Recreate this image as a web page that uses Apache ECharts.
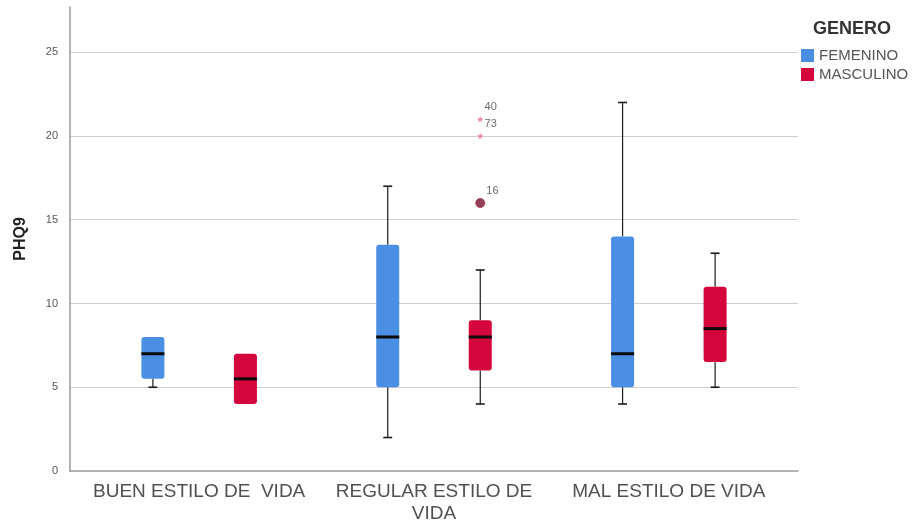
<!DOCTYPE html>
<html>
<head>
<meta charset="utf-8">
<script src="https://cdn.jsdelivr.net/npm/echarts@6/dist/echarts.min.js"></script>
<style>
  html, body { margin: 0; padding: 0; background: #ffffff; }
  #chart { width: 918px; height: 525px; }
</style>
</head>
<body>
<div id="chart"></div>
<script>
// Lifestyle categories on the x axis
const categories = ['BUEN ESTILO DE  VIDA', 'REGULAR ESTILO DE\nVIDA', 'MAL ESTILO DE VIDA'];
const groups = ['FEMENINO', 'MASCULINO'];

// Five-number summaries per category: [min, Q1, median, Q3, max]
const femenino  = [[5, 5.5, 7, 8, 8], [2, 5, 8, 13.5, 17], [4, 5, 7, 14, 22]];
const masculino = [[4, 4, 5.5, 7, 7], [4, 6, 8, 9, 12], [5, 6.5, 8.5, 11, 13]];

// Outlying cases (all in the MASCULINO group)
const outlierCategory = [1, 1, 1];
const outlierGroup    = [1, 1, 1];
const outlierValue    = [16, 20, 21];
const outlierCase     = ['16', '73', '40'];
const outlierKind     = ['circle', 'star', 'star'];

const yTicks = [0, 5, 10, 15, 20, 25];

const colors = ['#4A8FE3', '#D4063C'];
const GROUP_SHIFT = 0.197;   // horizontal shift of each gender box, in category units
const BOX_FRAC = 0.098;      // box width, fraction of category spacing
const CAP_FRAC = 0.038;      // whisker cap width

const STAR = 'path://M50,0 L61,35 L98,35 L68,57 L79,91 L50,70 L21,91 L32,57 L2,35 L39,35 Z';
const FONT = 'Liberation Sans, Arial, sans-serif';

function shiftFor(g) { return g === 0 ? -GROUP_SHIFT : GROUP_SHIFT; }

function boxRenderer(g) {
  return function (params, api) {
    const x = api.value(0) + shiftFor(g);
    const pMin = api.coord([x, api.value(1)]);
    const pQ1  = api.coord([x, api.value(2)]);
    const pMed = api.coord([x, api.value(3)]);
    const pQ3  = api.coord([x, api.value(4)]);
    const pMax = api.coord([x, api.value(5)]);
    const unit = api.size([1, 0])[0];
    const bw = unit * BOX_FRAC;
    const cw = unit * CAP_FRAC;
    const cx = pMed[0];
    const whisker = { stroke: '#1a1a1a', lineWidth: 1.2 };
    const cap = { stroke: '#1a1a1a', lineWidth: 1.6 };
    const children = [];
    if (pMax[1] < pQ3[1] - 0.5) {
      children.push({ type: 'line', shape: { x1: cx, y1: pQ3[1], x2: cx, y2: pMax[1] }, style: whisker });
      children.push({ type: 'line', shape: { x1: cx - cw / 2, y1: pMax[1], x2: cx + cw / 2, y2: pMax[1] }, style: cap });
    }
    if (pMin[1] > pQ1[1] + 0.5) {
      children.push({ type: 'line', shape: { x1: cx, y1: pQ1[1], x2: cx, y2: pMin[1] }, style: whisker });
      children.push({ type: 'line', shape: { x1: cx - cw / 2, y1: pMin[1], x2: cx + cw / 2, y2: pMin[1] }, style: cap });
    }
    children.push({
      type: 'rect',
      shape: { x: cx - bw / 2, y: pQ3[1], width: bw, height: pQ1[1] - pQ3[1], r: 3 },
      style: { fill: colors[g] }
    });
    children.push({
      type: 'line',
      shape: { x1: cx - bw / 2, y1: pMed[1], x2: cx + bw / 2, y2: pMed[1] },
      style: { stroke: '#0a0a0a', lineWidth: 3 }
    });
    return { type: 'group', children: children };
  };
}

function boxData(rows) {
  return rows.map(function (r, i) { return [i].concat(r); });
}

const outlierData = outlierValue.map(function (v, i) {
  const star = outlierKind[i] === 'star';
  return {
    value: [outlierCategory[i] + shiftFor(outlierGroup[i]), v],
    name: outlierCase[i],
    symbol: star ? STAR : 'circle',
    symbolSize: star ? 6 : 9,
    itemStyle: star
      ? { color: '#E0608A', borderColor: '#F2A6BE', borderWidth: 0.5 }
      : { color: '#780F2E', borderColor: '#9E2C4C', borderWidth: 1 }
  };
});

const chart = echarts.init(document.getElementById('chart'), null, { renderer: 'canvas' });

chart.setOption({
  backgroundColor: '#ffffff',
  animation: false,
  title: {
    text: 'GENERO',
    left: 808,
    top: 15,
    textStyle: { fontFamily: FONT, fontSize: 18, fontWeight: 'bold', color: '#333333' }
  },
  legend: {
    data: groups,
    orient: 'vertical',
    left: 801,
    top: 48,
    padding: 0,
    itemWidth: 13,
    itemHeight: 13,
    itemGap: 4,
    icon: 'rect',
    textStyle: { fontFamily: FONT, fontSize: 15, color: '#555555' }
  },
  grid: { left: 70, right: 120, top: 7, bottom: 48 },
  xAxis: {
    type: 'value',
    min: -0.55,
    max: 2.55,
    axisLine: { show: true, onZero: false, lineStyle: { color: '#9a9a9a', width: 1.5 } },
    axisTick: { show: false },
    splitLine: { show: false },
    axisLabel: {
      customValues: [0, 1, 2],
      formatter: function (v) { return categories[Math.round(v)]; },
      fontFamily: FONT,
      fontSize: 19,
      color: '#505050',
      lineHeight: 22,
      margin: 10
    }
  },
  yAxis: {
    type: 'value',
    min: 0,
    max: 27.7,
    interval: 5,
    name: 'PHQ9',
    nameLocation: 'middle',
    nameGap: 41,
    nameTextStyle: { fontFamily: FONT, fontSize: 16, fontWeight: 'bold', color: '#222222' },
    axisLine: { show: true, onZero: false, lineStyle: { color: '#9a9a9a', width: 1.5 } },
    axisTick: { show: false },
    axisLabel: {
      customValues: yTicks,
      fontFamily: FONT,
      fontSize: 11,
      color: '#555555',
      margin: 12
    },
    splitLine: { show: true, showMinLine: false, showMaxLine: false, lineStyle: { color: '#cfcfcf', width: 1 } }
  },
  series: [
    {
      name: groups[0],
      type: 'custom',
      renderItem: boxRenderer(0),
      itemStyle: { color: colors[0] },
      encode: { x: 0, y: [1, 2, 3, 4, 5] },
      data: boxData(femenino),
      z: 3
    },
    {
      name: groups[1],
      type: 'custom',
      renderItem: boxRenderer(1),
      itemStyle: { color: colors[1] },
      encode: { x: 0, y: [1, 2, 3, 4, 5] },
      data: boxData(masculino),
      z: 3
    },
    {
      name: 'outliers',
      type: 'scatter',
      data: outlierData,
      z: 4,
      label: {
        show: true,
        position: 'right',
        distance: 1,
        offset: [0, -12],
        formatter: '{b}',
        fontFamily: FONT,
        fontSize: 11,
        color: '#444444'
      }
    }
  ]
});
</script>
</body>
</html>
